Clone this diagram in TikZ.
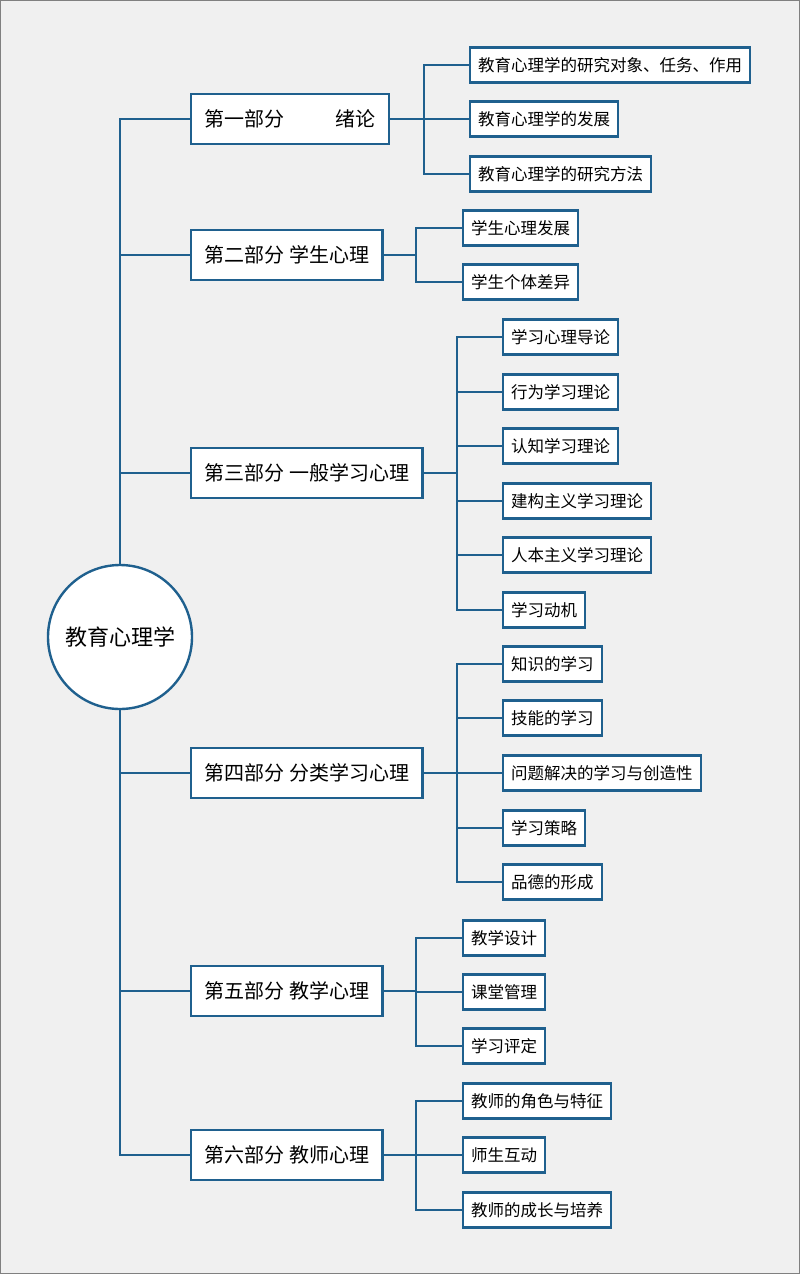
\documentclass[tikz,border=0pt]{standalone}
\usepackage{fontspec}
\setmainfont{Noto Sans CJK SC}
\definecolor{mblue}{RGB}{31,96,142}
\definecolor{bgc}{RGB}{240,240,240}
\pgfdeclarelayer{back}
\pgfsetlayers{back,main}
\begin{document}
\begin{tikzpicture}[x=1pt,y=-1pt,
 lone/.style={draw=mblue,fill=white,line width=2.4pt,minimum height=50pt,inner xsep=13.5pt,anchor=west,font=\fontsize{20}{24}\selectfont},
 ltwo/.style={draw=mblue,fill=white,line width=2.4pt,minimum height=35pt,inner xsep=8pt,anchor=west,font=\fontsize{16.5}{20}\selectfont},
 conn/.style={draw=mblue,line width=2.5pt,line join=miter}]
\useasboundingbox (0,0) rectangle (800,1274);
\node[circle,draw=mblue,fill=white,line width=2.4pt,minimum size=144pt,font=\fontsize{22}{26}\selectfont] (root) at (120,637) {教育心理学};
% level 1
\node[lone] (p1) at (190,119) {第一部分\hspace{51pt}绪论};
\node[lone] (p2) at (190,255) {第二部分 学生心理};
\node[lone] (p3) at (190,473) {第三部分 一般学习心理};
\node[lone] (p4) at (190,773) {第四部分 分类学习心理};
\node[lone] (p5) at (190,991) {第五部分 教学心理};
\node[lone] (p6) at (190,1155) {第六部分 教师心理};
% group 1
\node[ltwo] (c11) at (469,65) {教育心理学的研究对象、任务、作用};
\node[ltwo] (c12) at (469,119) {教育心理学的发展};
\node[ltwo] (c13) at (469,174) {教育心理学的研究方法};
% group 2
\node[ltwo] (c21) at (462,228) {学生心理发展};
\node[ltwo] (c22) at (462,282) {学生个体差异};
% group 3
\node[ltwo] (c31) at (502,337) {学习心理导论};
\node[ltwo] (c32) at (502,392) {行为学习理论};
\node[ltwo] (c33) at (502,446) {认知学习理论};
\node[ltwo] (c34) at (502,501) {建构主义学习理论};
\node[ltwo] (c35) at (502,555) {人本主义学习理论};
\node[ltwo] (c36) at (502,610) {学习动机};
% group 4
\node[ltwo] (c41) at (502,664) {知识的学习};
\node[ltwo] (c42) at (502,718) {技能的学习};
\node[ltwo] (c43) at (502,773) {问题解决的学习与创造性};
\node[ltwo] (c44) at (502,828) {学习策略};
\node[ltwo] (c45) at (502,882) {品德的形成};
% group 5
\node[ltwo] (c51) at (462,938) {教学设计};
\node[ltwo] (c52) at (462,992) {课堂管理};
\node[ltwo] (c53) at (462,1046) {学习评定};
% group 6
\node[ltwo] (c61) at (462,1101) {教师的角色与特征};
\node[ltwo] (c62) at (462,1155) {师生互动};
\node[ltwo] (c63) at (462,1210) {教师的成长与培养};
% branch coordinates
\coordinate (b1) at (424,0);
\coordinate (b2) at (416,0);
\coordinate (b3) at (457,0);
\coordinate (b4) at (457,0);
\coordinate (b5) at (416,0);
\coordinate (b6) at (416,0);
\begin{pgfonlayer}{back}
\path[fill=bgc,draw=gray,line width=1pt] (0.5,0.5) rectangle (799.5,1273.5);
% trunk
\draw[conn] (p1.west) -- (p1.west -| root) -- (p6.west -| root) -- (p6.west);
\foreach \p in {p2,p3,p4,p5} {\draw[conn] (\p.west) -- (\p.west -| root);}
% group 1
\draw[conn] (p1.east) -- (p1.east -| b1);
\draw[conn] (c11.west) -- (c11.west -| b1) -- (c13.west -| b1) -- (c13.west);
\draw[conn] (c12.west) -- (c12.west -| b1);
% group 2
\draw[conn] (p2.east) -- (p2.east -| b2);
\draw[conn] (c21.west) -- (c21.west -| b2) -- (c22.west -| b2) -- (c22.west);
% group 3
\draw[conn] (p3.east) -- (p3.east -| b3);
\draw[conn] (c31.west) -- (c31.west -| b3) -- (c36.west -| b3) -- (c36.west);
\foreach \c in {c32,c33,c34,c35} {\draw[conn] (\c.west) -- (\c.west -| b3);}
% group 4
\draw[conn] (p4.east) -- (p4.east -| b4);
\draw[conn] (c41.west) -- (c41.west -| b4) -- (c45.west -| b4) -- (c45.west);
\foreach \c in {c42,c43,c44} {\draw[conn] (\c.west) -- (\c.west -| b4);}
% group 5
\draw[conn] (p5.east) -- (p5.east -| b5);
\draw[conn] (c51.west) -- (c51.west -| b5) -- (c53.west -| b5) -- (c53.west);
\draw[conn] (c52.west) -- (c52.west -| b5);
% group 6
\draw[conn] (p6.east) -- (p6.east -| b6);
\draw[conn] (c61.west) -- (c61.west -| b6) -- (c63.west -| b6) -- (c63.west);
\draw[conn] (c62.west) -- (c62.west -| b6);
\end{pgfonlayer}
\end{tikzpicture}
\end{document}
